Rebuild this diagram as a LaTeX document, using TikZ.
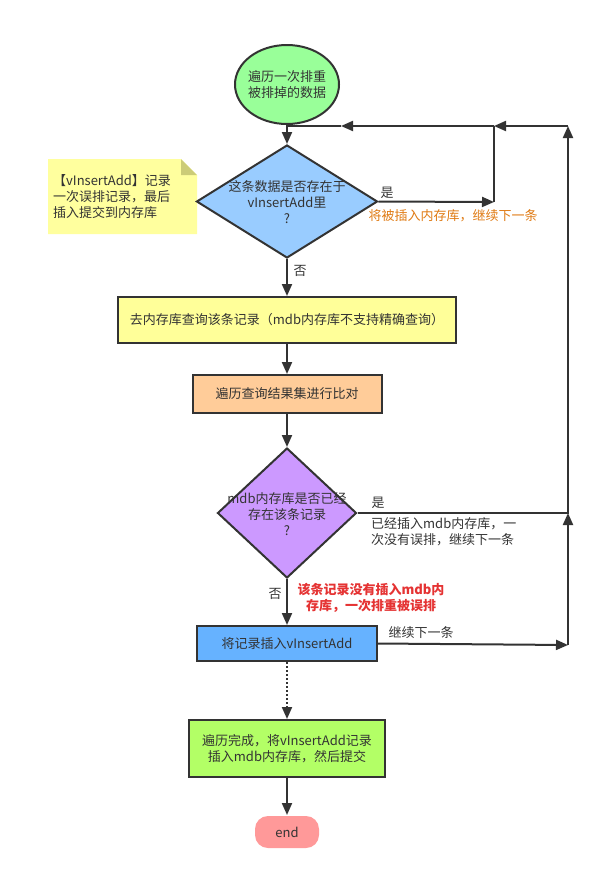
\documentclass[tikz,border=0pt]{standalone}
\usepackage{fontspec}
\setmainfont{Noto Sans CJK SC}
\usetikzlibrary{arrows.meta,shapes.geometric}
\definecolor{ln}{HTML}{333333}
\definecolor{txt}{HTML}{333333}
\definecolor{cgreen}{HTML}{99FF99}
\definecolor{cblue}{HTML}{99CCFF}
\definecolor{cyellow}{HTML}{FFFF99}
\definecolor{corangebox}{HTML}{FFCC99}
\definecolor{cpurple}{HTML}{CC99FF}
\definecolor{cblue2}{HTML}{66B2FF}
\definecolor{clime}{HTML}{B3FF66}
\definecolor{cpink}{HTML}{FF9999}
\definecolor{cnote}{HTML}{FFFF9E}
\definecolor{cfold}{HTML}{CCCC77}
\definecolor{corange}{HTML}{E07B14}
\definecolor{cred}{HTML}{E53333}
\begin{document}
\begin{tikzpicture}[x=1pt,y=-1pt,
  base/.style={font=\fontsize{13pt}{16pt}\selectfont, text=txt},
  box/.style={base, draw=ln, line width=2pt, rectangle, inner sep=0pt, align=center},
  dshape/.style={diamond, draw=ln, line width=2pt, inner sep=0pt},
  lbl/.style={base, inner sep=0pt},
  conn/.style={draw=ln, line width=2pt},
  arr/.style={conn, -{Triangle[length=12pt,width=10pt]}},
  dotline/.style={dash pattern=on 2pt off 2pt}
]
\useasboundingbox[fill=white] (0,0) rectangle (601,879);

% note
\fill[cnote] (48,159) -- (181,159) -- (197,175) -- (197,234) -- (48,234) -- cycle;
\fill[cfold] (181,159) -- (197,175) -- (181,175) -- cycle;
\node[lbl, anchor=west, align=left] (note) at (53,197) {【vInsertAdd】记录\\一次误排记录，最后\\插入提交到内存库};

% nodes
\node[box, ellipse, fill=cgreen, minimum width=104pt, minimum height=79pt, inner xsep=-4pt] (start) at (287,84.5) {遍历一次排重\\被排掉的数据};
\node[dshape, fill=cblue, minimum width=181pt, minimum height=113pt] (d1) at (287,201.5) {};
\node[lbl, align=center] (d1t) at (287,202) {这条数据是否存在于\\vInsertAdd里\\?};
\node[box, fill=cyellow, minimum width=338pt, minimum height=46pt] (box1) at (287,320) {去内存库查询该条记录（mdb内存库不支持精确查询）};
\node[box, fill=corangebox, minimum width=189pt, minimum height=38pt] (box2) at (287,394) {遍历查询结果集进行比对};
\node[dshape, fill=cpurple, minimum width=139pt, minimum height=130pt] (d2) at (287,513) {};
\node[lbl, align=center] (d2t) at (287,514) {mdb内存库是否已经\\存在该条记录\\?};
\node[box, fill=cblue2, minimum width=180pt, minimum height=35pt] (box3) at (287,643.5) {将记录插入vInsertAdd};
\node[box, fill=clime, minimum width=196pt, minimum height=57pt] (box4) at (287,748.5) {遍历完成，将vInsertAdd记录\\插入mdb内存库，然后提交};
\node[box, draw=none, fill=cpink, rounded corners=13pt, minimum width=64pt, minimum height=32pt] (end) at (287,832) {end};

% labels
\node[lbl] (yes1) at (387,193) {是};
\node[lbl, text=corange] (lblo) at (453,216) {将被插入内存库，继续下一条};
\node[lbl] (no1) at (300,271) {否};
\node[lbl] (yes2) at (378,503) {是};
\node[lbl, anchor=west, align=left] (lbl2) at (371,532) {已经插入mdb内存库，一\\次没有误排，继续下一条};
\node[lbl] (no2) at (275,594) {否};
\node[lbl, text=cred, font=\fontsize{13pt}{16pt}\selectfont\bfseries, align=center] (lblr) at (371,598) {该条记录没有插入mdb内\\存库，一次排重被误排};
\node[lbl] (cont) at (421,633) {继续下一条};

% coordinates
\coordinate (j1) at (494,202);
\coordinate (jt) at (494,126);
\coordinate (m1) at (341,126);
\coordinate (tl) at (287,126);
\coordinate (r1) at (568,513);
\coordinate (rt) at (568,126);
\coordinate (r2) at (568,645);

% connectors
\draw[arr] (start.south) -- (d1.north);
\draw[arr] (d1.east) -- (j1);
\draw[conn] (j1) -- (jt);
\draw[arr] (jt) -- (m1);
\draw[conn] (m1) -- (tl);
\draw[arr] (d1.south) -- (box1.north);
\draw[arr] (box1.south) -- (box2.north);
\draw[arr] (box2.south) -- (d2.north);
\draw[arr] (d2.east) -- (r1) -- (rt);
\draw[arr] (rt) -- (jt);
\draw[arr] (d2.south) -- (box3.north);
\draw[arr] (box3.east) -- (r2);
\draw[arr] (r2) -- (r1);
\draw[arr, dotline] (box3.south) -- (box4.north);
\draw[arr] (box4.south) -- (end.north);
\end{tikzpicture}
\end{document}
